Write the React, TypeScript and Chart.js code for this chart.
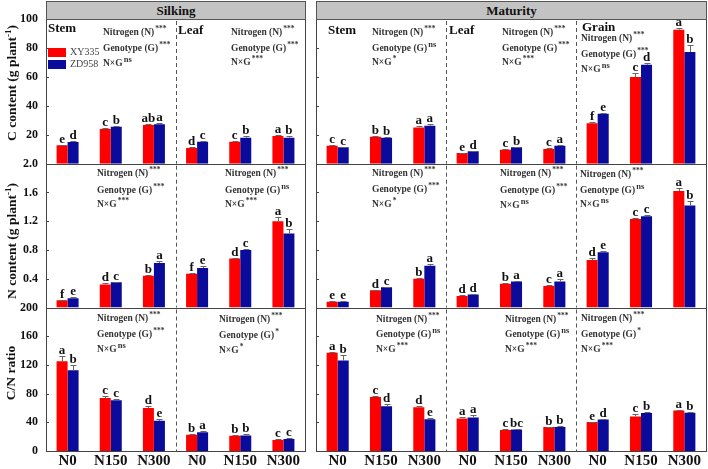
import React, { useEffect, useRef } from 'react';
import { Chart, registerables } from 'chart.js';
Chart.register(...registerables);

const W = 708;
const H = 469;
const SERIF = '"Liberation Serif", "Times New Roman", Times, serif';
const RED = '#ff0000';
const BLUE = '#0b0b9b';

// ---------- categories ----------
const silkingCategories = ['N0', 'N150', 'N300', 'N0', 'N150', 'N300'];
const maturityCategories = ['N0', 'N150', 'N300', 'N0', 'N150', 'N300', 'N0', 'N150', 'N300'];
const seriesNames = ['XY335', 'ZD958'];

// ---------- C content (g plant-1) ----------
const cSilkXY335 = [12.7, 24.0, 26.7, 10.8, 15.2, 19.1];
const cSilkZD958 = [15.0, 25.6, 27.2, 15.2, 18.0, 18.0];
const cSilkErrXY335 = [0.4, 0.8, 0.6, 0.4, 0.5, 0.5];
const cSilkErrZD958 = [0.5, 0.4, 0.8, 0.5, 1.0, 1.2];
const cSilkLetXY335 = ['e', 'c', 'ab', 'd', 'c', 'a'];
const cSilkLetZD958 = ['d', 'b', 'a', 'c', 'b', 'b'];
const cMatXY335 = [12.4, 18.7, 25.1, 7.4, 9.7, 10.2, 27.9, 59.9, 92.6];
const cMatZD958 = [11.3, 18.0, 26.3, 8.6, 11.3, 12.4, 34.6, 68.4, 77.2];
const cMatErrXY335 = [0.6, 0.4, 0.8, 0.3, 0.4, 0.4, 1.0, 2.8, 1.2];
const cMatErrZD958 = [0.5, 0.4, 1.2, 0.4, 0.4, 0.5, 0.6, 1.0, 5.0];
const cMatLetXY335 = ['c', 'b', 'a', 'e', 'c', 'c', 'f', 'c', 'a'];
const cMatLetZD958 = ['c', 'b', 'a', 'd', 'b', 'a', 'e', 'd', 'b'];

// ---------- N content (g plant-1) ----------
const nSilkXY335 = [0.10, 0.32, 0.44, 0.47, 0.68, 1.20];
const nSilkZD958 = [0.13, 0.35, 0.62, 0.55, 0.80, 1.03];
const nSilkErrXY335 = [0.01, 0.02, 0.01, 0.01, 0.01, 0.06];
const nSilkErrZD958 = [0.01, 0.01, 0.02, 0.03, 0.01, 0.06];
const nSilkLetXY335 = ['f', 'd', 'b', 'f', 'd', 'a'];
const nSilkLetZD958 = ['e', 'c', 'a', 'e', 'c', 'b'];
const nMatXY335 = [0.08, 0.24, 0.40, 0.16, 0.33, 0.30, 0.66, 1.23, 1.62];
const nMatZD958 = [0.08, 0.28, 0.58, 0.18, 0.36, 0.36, 0.77, 1.27, 1.42];
const nMatErrXY335 = [0.01, 0.01, 0.01, 0.01, 0.01, 0.01, 0.03, 0.02, 0.04];
const nMatErrZD958 = [0.01, 0.01, 0.02, 0.01, 0.01, 0.03, 0.01, 0.01, 0.06];
const nMatLetXY335 = ['e', 'd', 'b', 'd', 'b', 'c', 'd', 'c', 'a'];
const nMatLetZD958 = ['e', 'c', 'a', 'd', 'a', 'a', 'e', 'c', 'b'];

// ---------- C/N ratio ----------
const cnSilkXY335 = [125, 74, 60, 22.6, 21.3, 15.3];
const cnSilkZD958 = [112.5, 70.8, 42, 26, 21.5, 16.7];
const cnSilkErrXY335 = [7, 2.5, 2.5, 1, 0.8, 0.8];
const cnSilkErrZD958 = [8, 1.5, 3, 2.5, 1.5, 0.8];
const cnSilkLetXY335 = ['a', 'c', 'd', 'b', 'b', 'c'];
const cnSilkLetZD958 = ['b', 'c', 'e', 'a', 'b', 'c'];
const cnMatXY335 = [137, 75.4, 61, 45.4, 29.2, 33.3, 40.3, 48.2, 56.5];
const cnMatZD958 = [126, 62.5, 44.4, 46.8, 30, 33.5, 44, 52.8, 53.2];
const cnMatErrXY335 = [1, 1.2, 1.2, 2, 0.8, 0.8, 0.8, 3, 0.8];
const cnMatErrZD958 = [8, 3, 2, 4, 0.8, 1.5, 1, 1, 0.8];
const cnMatLetXY335 = ['a', 'c', 'd', 'a', 'c', 'b', 'e', 'c', 'a'];
const cnMatLetZD958 = ['b', 'd', 'e', 'a', 'bc', 'b', 'd', 'b', 'b'];

// ---------- y axis ticks ----------
const cTicksMax = 100;
const cTicksStep = 20;
const nTicksMax = 2.0;
const nTicksStep = 0.4;
const cnTicksMax = 200;
const cnTicksStep = 40;

// ---------- significance (N, G, N×G) : silking stem, silking leaf, maturity stem, maturity leaf, maturity grain ----------
const sigCContent = [['***', '***', 'ns'], ['***', '***', '***'], ['***', 'ns', '*'], ['***', '***', '***'], ['***', '***', 'ns']];
const sigNContent = [['***', '***', '***'], ['***', 'ns', '***'], ['***', '***', '*'], ['***', '***', 'ns'], ['***', 'ns', 'ns']];
const sigCNRatio = [['***', '***', 'ns'], ['***', '*', '*'], ['***', 'ns', '***'], ['***', 'ns', '***'], ['***', '*', '***']];

// ---------- layout ----------
const COL_X = [[46, 305], [316, 706]];
const ROW_Y = [[19, 163.7], [163.7, 307.5], [307.5, 451]];
const Y_AXIS_W = 40;
const X_AXIS_H = 18;

type Spec = {
  labels: string[];
  a: number[]; b: number[];
  ea: number[]; eb: number[];
  la: string[]; lb: string[];
  max: number; step: number; hideZero: boolean; decimals: number;
  l: number; r: number; t: number; bt: number;
  showY: boolean; showX: boolean;
  dividers: number[];
};

function overlayPlugin(s: Spec) {
  return {
    id: 'overlay',
    afterDatasetsDraw(chart: any) {
      const ctx = chart.ctx as CanvasRenderingContext2D;
      const ca = chart.chartArea;
      const x = chart.scales.x;
      const y = chart.scales.y;
      ctx.save();
      ctx.lineWidth = 1;
      // dashed dividers
      ctx.strokeStyle = '#555';
      ctx.setLineDash([4, 3]);
      s.dividers.forEach((i) => {
        const px = Math.round((x.getPixelForValue(i) + x.getPixelForValue(i + 1)) / 2) + 0.5;
        ctx.beginPath();
        ctx.moveTo(px, ca.top + 2);
        ctx.lineTo(px, ca.bottom);
        ctx.stroke();
      });
      ctx.setLineDash([]);
      // error bars + letters
      const vals = [s.a, s.b];
      const errs = [s.ea, s.eb];
      const lets = [s.la, s.lb];
      ctx.font = `bold 13px ${SERIF}`;
      ctx.textAlign = 'center';
      ctx.textBaseline = 'alphabetic';
      ctx.fillStyle = '#111';
      for (let d = 0; d < 2; d++) {
        const meta = chart.getDatasetMeta(d);
        meta.data.forEach((bar: any, i: number) => {
          const v = vals[d][i];
          const e = errs[d][i];
          const bx = Math.round(bar.x) + 0.5;
          const yb = y.getPixelForValue(v);
          const yt = Math.round(y.getPixelForValue(v + e)) + 0.5;
          ctx.strokeStyle = '#666';
          ctx.beginPath();
          ctx.moveTo(bx, yb);
          ctx.lineTo(bx, yt);
          ctx.moveTo(bx - 3, yt);
          ctx.lineTo(bx + 3, yt);
          ctx.stroke();
          ctx.fillText(lets[d][i], bar.x, yt - 3);
        });
      }
      // inward tick marks
      ctx.strokeStyle = '#444';
      y.ticks.forEach((t: any) => {
        const py = Math.round(y.getPixelForValue(t.value)) + 0.5;
        if (py <= ca.top + 1 || py >= ca.bottom - 1) return;
        ctx.beginPath();
        ctx.moveTo(ca.left, py);
        ctx.lineTo(ca.left + 3, py);
        ctx.stroke();
      });
      // frame
      ctx.strokeStyle = '#444';
      ctx.strokeRect(Math.round(ca.left) + 0.5, Math.round(ca.top) + 0.5,
        Math.round(ca.right) - Math.round(ca.left), Math.round(ca.bottom) - Math.round(ca.top));
      ctx.restore();
    },
  };
}

function buildChart(canvas: HTMLCanvasElement, s: Spec) {
  const tickFont = { family: SERIF, size: 12, weight: 'bold' as const };
  return new Chart(canvas, {
    type: 'bar',
    data: {
      labels: s.labels,
      datasets: [
        { label: seriesNames[0], data: s.a, backgroundColor: RED, borderWidth: 0, categoryPercentage: 0.51, barPercentage: 1 },
        { label: seriesNames[1], data: s.b, backgroundColor: BLUE, borderWidth: 0, categoryPercentage: 0.51, barPercentage: 1 },
      ],
    },
    options: {
      responsive: false,
      maintainAspectRatio: false,
      animation: false,
      events: [],
      layout: {
        padding: {
          left: s.showY ? s.l - Y_AXIS_W : s.l,
          right: W - s.r,
          top: s.t,
          bottom: s.showX ? H - s.bt - X_AXIS_H : H - s.bt,
        },
      },
      plugins: { legend: { display: false }, tooltip: { enabled: false } },
      scales: {
        x: {
          display: s.showX,
          grid: { display: false, drawTicks: false },
          border: { display: false },
          ticks: { padding: 1, color: '#111', autoSkip: false, maxRotation: 0, font: { family: SERIF, size: 15, weight: 'bold' } },
          afterFit: s.showX ? (sc: any) => { sc.height = X_AXIS_H; } : undefined,
        },
        y: {
          display: s.showY,
          min: 0,
          max: s.max,
          grid: { display: false, drawTicks: false },
          border: { display: false },
          ticks: {
            stepSize: s.step,
            padding: 8,
            color: '#111',
            font: tickFont,
            callback: (v: any) => {
              const n = Number(v);
              if (s.hideZero && Math.abs(n) < 1e-9) return '';
              return n.toFixed(s.decimals);
            },
          },
          afterFit: s.showY ? (sc: any) => { sc.width = Y_AXIS_W; } : undefined,
        },
      },
    } as any,
    plugins: [overlayPlugin(s) as any],
  });
}

function makeSpecs(): Spec[] {
  const rows = [
    { max: cTicksMax, step: cTicksStep, hideZero: true, decimals: 0,
      silk: [cSilkXY335, cSilkZD958, cSilkErrXY335, cSilkErrZD958, cSilkLetXY335, cSilkLetZD958],
      mat: [cMatXY335, cMatZD958, cMatErrXY335, cMatErrZD958, cMatLetXY335, cMatLetZD958] },
    { max: nTicksMax, step: nTicksStep, hideZero: true, decimals: 1,
      silk: [nSilkXY335, nSilkZD958, nSilkErrXY335, nSilkErrZD958, nSilkLetXY335, nSilkLetZD958],
      mat: [nMatXY335, nMatZD958, nMatErrXY335, nMatErrZD958, nMatLetXY335, nMatLetZD958] },
    { max: cnTicksMax, step: cnTicksStep, hideZero: false, decimals: 0,
      silk: [cnSilkXY335, cnSilkZD958, cnSilkErrXY335, cnSilkErrZD958, cnSilkLetXY335, cnSilkLetZD958],
      mat: [cnMatXY335, cnMatZD958, cnMatErrXY335, cnMatErrZD958, cnMatLetXY335, cnMatLetZD958] },
  ];
  const specs: Spec[] = [];
  rows.forEach((row, ri) => {
    [0, 1].forEach((ci) => {
      const d: any[] = ci === 0 ? row.silk : row.mat;
      specs.push({
        labels: ci === 0 ? silkingCategories : maturityCategories,
        a: d[0], b: d[1], ea: d[2], eb: d[3], la: d[4], lb: d[5],
        max: row.max, step: row.step, hideZero: row.hideZero, decimals: row.decimals,
        l: COL_X[ci][0], r: COL_X[ci][1], t: ROW_Y[ri][0], bt: ROW_Y[ri][1],
        showY: ci === 0, showX: ri === 2,
        dividers: ci === 0 ? [2] : [2, 5],
      });
    });
  });
  return specs;
}

const statLabels = ['Nitrogen (N)', 'Genotype (G)', 'N×G'];
const statLayout = [
  { sig: sigCContent, x: [103, 231, 372, 502, 581], y: [[31.7, 47.7, 63], [31.7, 47.7, 62], [32, 47.7, 62], [32, 47.7, 62], [37.7, 54, 69.3]] },
  { sig: sigNContent, x: [97, 225, 372, 500, 580], y: [[173.3, 190, 204.3], [173.3, 190, 204], [173.3, 189.3, 204], [173.3, 190, 205], [174.3, 190, 204.3]] },
  { sig: sigCNRatio, x: [97, 219, 376, 505, 581], y: [[318.3, 334.3, 349], [319.3, 335, 350], [319, 334.3, 349.3], [319, 334.3, 349.3], [318.3, 334.3, 349.3]] },
];
const panelTitles = [
  { t: 'Stem', x: 48, y: 28 }, { t: 'Leaf', x: 178, y: 30 },
  { t: 'Stem', x: 328, y: 30 }, { t: 'Leaf', x: 449, y: 30 }, { t: 'Grain', x: 582, y: 27 },
];

const Sup = ({ t }: { t: string }) => (
  <span style={{ fontSize: t === 'ns' ? 8.5 : 7.5, position: 'relative', top: -4, marginLeft: 1 }}>{t}</span>
);

export default function App() {
  const refs = useRef<(HTMLCanvasElement | null)[]>([]);
  const specs = makeSpecs();
  useEffect(() => {
    const charts = specs.map((s, i) => buildChart(refs.current[i] as HTMLCanvasElement, s));
    return () => charts.forEach((c) => c.destroy());
  }, []);

  const abs = { position: 'absolute' as const };
  const yTitle = (text: React.ReactNode, cy: number) => (
    <div style={{ ...abs, left: 11, top: cy, transform: 'translate(-50%, -50%) rotate(-90deg)', whiteSpace: 'nowrap',
      font: `bold 13.5px ${SERIF}`, color: '#111' }}>{text}</div>
  );

  return (
    <div style={{ ...abs, left: 0, top: 0, width: W, height: H, background: '#fff', overflow: 'hidden', fontFamily: SERIF }}>
      {specs.map((_, i) => (
        <canvas key={i} ref={(el) => { refs.current[i] = el; }} width={W} height={H}
          style={{ ...abs, left: 0, top: 0, width: W, height: H }} />
      ))}
      {/* headers */}
      <div style={{ ...abs, left: 46, top: 1, width: 260, height: 19, background: '#c3c3c3', border: '1px solid #555', boxSizing: 'border-box',
        font: `bold 13px ${SERIF}`, textAlign: 'center', lineHeight: '17px', color: '#111' }}>Silking</div>
      <div style={{ ...abs, left: 316, top: 1, width: 391, height: 19, background: '#c3c3c3', border: '1px solid #555', boxSizing: 'border-box',
        font: `bold 13px ${SERIF}`, textAlign: 'center', lineHeight: '17px', color: '#111' }}>Maturity</div>
      {/* y titles */}
      {yTitle(<span>C content (g plant<sup style={{ fontSize: 9 }}>-1</sup>)</span>, 83)}
      {yTitle(<span>N content (g plant<sup style={{ fontSize: 9 }}>-1</sup>)</span>, 241)}
      {yTitle(<span>C/N ratio</span>, 373)}
      {/* panel titles */}
      {panelTitles.map((p, i) => (
        <div key={'pt' + i} style={{ ...abs, left: p.x, top: p.y - 8, font: `bold 13px ${SERIF}`, lineHeight: '16px', color: '#111' }}>{p.t}</div>
      ))}
      {/* legend */}
      <div style={{ ...abs, left: 48, top: 48, width: 18, height: 9, background: RED }} />
      <div style={{ ...abs, left: 48, top: 60, width: 18, height: 9, background: BLUE }} />
      <div style={{ ...abs, left: 70, top: 46, font: `10px ${SERIF}`, lineHeight: '12px', color: '#444' }}>{seriesNames[0]}</div>
      <div style={{ ...abs, left: 70, top: 58, font: `10px ${SERIF}`, lineHeight: '12px', color: '#444' }}>{seriesNames[1]}</div>
      {/* statistics */}
      {statLayout.map((row, ri) => row.x.map((x, bi) => statLabels.map((lab, li) => (
        <div key={`s${ri}-${bi}-${li}`} style={{ ...abs, left: x, top: row.y[bi][li] - 6, font: `bold 9.5px ${SERIF}`, lineHeight: '12px',
          color: '#333', whiteSpace: 'nowrap' }}>
          {lab}<Sup t={row.sig[bi][li]} />
        </div>
      ))))}
    </div>
  );
}
